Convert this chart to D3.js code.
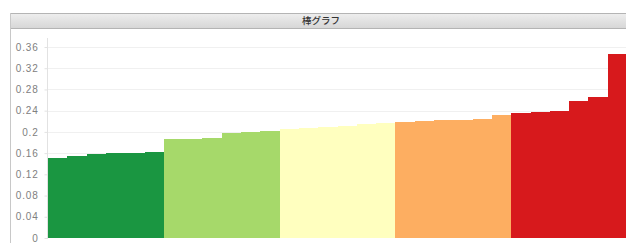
<!DOCTYPE html>
<html>
<head>
<meta charset="utf-8">
<script src="https://cdn.jsdelivr.net/npm/d3@7"></script>
<style>
  html, body { margin: 0; padding: 0; background: #fff; }
  svg { display: block; }
</style>
</head>
<body>
<div id="chart"></div>
<script>
// Data (30 bars, sorted ascending, 6 per class)
const title = "棒グラフ";
const values = [
  0.150, 0.155, 0.158, 0.160, 0.160, 0.163,
  0.186, 0.187, 0.188, 0.198, 0.199, 0.202,
  0.205, 0.207, 0.210, 0.212, 0.214, 0.217,
  0.219, 0.220, 0.222, 0.223, 0.224, 0.232,
  0.236, 0.237, 0.240, 0.259, 0.266, 0.346
];
const classes = [
  0, 0, 0, 0, 0, 0,
  1, 1, 1, 1, 1, 1,
  2, 2, 2, 2, 2, 2,
  3, 3, 3, 3, 3, 3,
  4, 4, 4, 4, 4, 4
];
const classColors = ["#1a9641", "#a6d96a", "#ffffbf", "#fdae61", "#d7191c"];
const yTicks = [0, 0.04, 0.08, 0.12, 0.16, 0.2, 0.24, 0.28, 0.32, 0.36];

const W = 626, H = 243;
const svg = d3.select("#chart").append("svg").attr("width", W).attr("height", H);

// Panel with title bar
const panel = { x: 10, y: 13, titleH: 15 };
const grad = svg.append("defs").append("linearGradient").attr("id", "tbar")
    .attr("x1", 0).attr("y1", 0).attr("x2", 0).attr("y2", 1);
grad.append("stop").attr("offset", "0%").attr("stop-color", "#eeeeee");
grad.append("stop").attr("offset", "100%").attr("stop-color", "#d6d6d6");

svg.append("rect").attr("x", panel.x + 0.5).attr("y", panel.y + 0.5)
    .attr("width", W).attr("height", panel.titleH)
    .attr("fill", "url(#tbar)").attr("stroke", "#b4b4b4");
svg.append("line").attr("x1", panel.x + 0.5).attr("x2", panel.x + 0.5)
    .attr("y1", panel.y).attr("y2", H).attr("stroke", "#c8c8c8");
svg.append("text").attr("x", 321).attr("y", panel.y + 11)
    .attr("text-anchor", "middle")
    .style("font-family", "'Noto Sans CJK JP', sans-serif")
    .style("font-size", "9.5px").style("font-weight", "500").style("fill", "#333")
    .text(title);

// Scales
const x = d3.scaleBand().domain(d3.range(values.length)).range([48, 627]).padding(0);
const y = d3.scaleLinear().domain([0, 0.36]).range([238, 47]);

// Gridlines
svg.append("g").selectAll("line").data(yTicks.slice(1)).join("line")
    .attr("x1", 48).attr("x2", W)
    .attr("y1", d => Math.round(y(d)) + 0.5).attr("y2", d => Math.round(y(d)) + 0.5)
    .attr("stroke", "#f0f0f0");

// Bars
svg.append("g").attr("shape-rendering", "crispEdges")
  .selectAll("rect").data(values).join("rect")
    .attr("x", (d, i) => x(i)).attr("width", x.bandwidth() + 1)
    .attr("y", d => y(d)).attr("height", d => y(0) - y(d))
    .attr("fill", (d, i) => classColors[classes[i]]);

// Y axis
const yAxis = svg.append("g").attr("transform", "translate(47.5,0)")
    .call(d3.axisLeft(y).tickValues(yTicks).tickSize(3).tickPadding(6).tickFormat(d => String(d)));
yAxis.select(".domain").attr("stroke", "#e2e2e2").attr("d", "M0,38V239");
yAxis.selectAll(".tick line").attr("stroke", "#e2e2e2");
yAxis.selectAll(".tick text")
    .style("font-family", "'Liberation Sans', Arial, sans-serif")
    .style("font-size", "10px").style("letter-spacing", "0.8px").style("fill", "#808080");
</script>
</body>
</html>
